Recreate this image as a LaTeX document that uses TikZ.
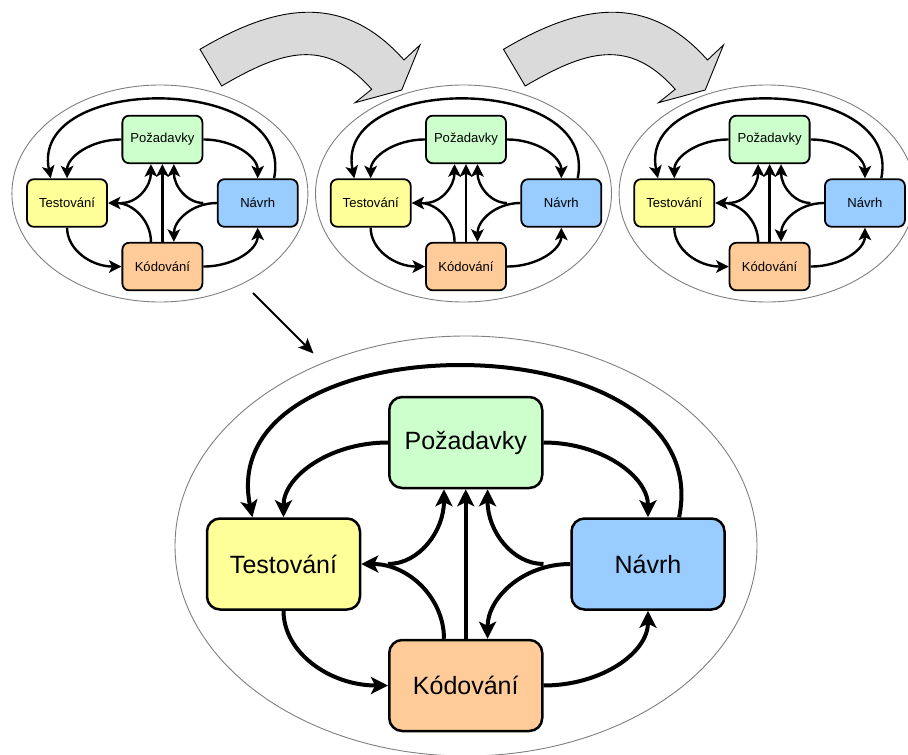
\documentclass[tikz,border=0pt]{standalone}
\usepackage{fontspec}
\setmainfont{Liberation Sans}
\usetikzlibrary{arrows.meta,calc}

\definecolor{reqgreen}{HTML}{CCFFCC}
\definecolor{testyellow}{HTML}{FFFF99}
\definecolor{designblue}{HTML}{99CCFF}
\definecolor{codeorange}{HTML}{FFCC99}
\definecolor{turnfill}{HTML}{DADADA}
\definecolor{ringgray}{HTML}{7F7F7F}

% One development cycle: #1 name prefix, (#2,#3) centre, #4 scale,
% #5 box border width, #6 connector width, #7 arrow tip size
\newcommand\lifecycle[7]{%
  \pgfmathsetmacro\lcw{153*#4}%
  \pgfmathsetmacro\lch{91*#4}%
  \pgfmathsetmacro\lcr{13*#4}%
  \pgfmathsetmacro\lcf{25*#4}%
  \pgfmathsetmacro\lcti{0.24*#7}%
  \begin{scope}[shift={(#2,#3)}, scale=#4,
    phase/.style={draw, line width=#5pt, rounded corners=\lcr pt,
      minimum width=\lcw pt, minimum height=\lch pt, inner sep=0pt,
      font=\fontsize{\lcf pt}{\lcf pt}\selectfont},
    flow/.style={line width=#6pt,
      -{Stealth[length=#7pt, width=#7pt, inset=\lcti pt]}}]
    \node[phase, fill=reqgreen]    (#1pz) at (0,-121.5)   {Požadavky};
    \node[phase, fill=testyellow]  (#1ts) at (-182.25,0)  {Testování};
    \node[phase, fill=designblue]  (#1nv) at (182.25,0)   {Návrh};
    \node[phase, fill=codeorange]  (#1kd) at (0,121.5)    {Kódování};
    % long loop over the top
    \draw[flow] ($(#1nv.north west)!0.7!(#1nv.north east)$)
      .. controls +(41,-201) and +(-41,-201) ..
      ($(#1ts.north west)!0.3!(#1ts.north east)$);
    % outer ring
    \draw[flow] (#1pz.west) .. controls +(-58,0) and +(0,-41) .. (#1ts.north);
    \draw[flow] (#1pz.east) .. controls +(58,0) and +(0,-41) .. (#1nv.north);
    \draw[flow] (#1ts.south) .. controls +(0,42) and +(-58,0) .. (#1kd.west);
    \draw[flow] (#1kd.east) .. controls +(58,0) and +(0,42) .. (#1nv.south);
    % inner links
    \draw[flow] (#1kd.north) -- (#1pz.south);
    \draw[flow] ($(#1kd.north west)!0.36!(#1kd.north east)$)
      .. controls +(0,-41) and +(47,0) .. (#1ts.east);
    \draw[flow] (#1kd.west |- #1ts.east)
      .. controls +(31,0) and +(0,42) ..
      ($(#1pz.south west)!0.36!(#1pz.south east)$);
    \draw[flow] (#1kd.east |- #1nv.west)
      .. controls +(-31,0) and +(0,42) ..
      ($(#1pz.south west)!0.64!(#1pz.south east)$);
    \draw[flow] (#1nv.west)
      .. controls +(-47,0) and +(0,-41) ..
      ($(#1kd.north west)!0.64!(#1kd.north east)$);
  \end{scope}}

% Curved block arrow between two cycles, shifted by #1
\newcommand\turnarrow[1]{%
  \begin{scope}[shift={(#1,0)}]
    \draw[fill=turnfill, line width=0.9pt, line join=miter]
      (200,49.3) .. controls (277.5,3.5) and (344.2,-7.3) .. (404,60)
      -- (420,45) -- (401.7,90) -- (355,102.7) -- (371.7,89.3)
      .. controls (325.2,36.9) and (282,50.7) .. (221.7,86) -- cycle;
  \end{scope}}

\begin{document}
\begin{tikzpicture}[x=1pt, y=-1pt]
  \useasboundingbox (0,0) rectangle (908,755);
  \clip (0,0) rectangle (908,755);

  % rings round each cycle
  \draw[ringgray, line width=0.9pt] (159.9,193.5) ellipse [x radius=148, y radius=108.5];
  \draw[ringgray, line width=0.9pt] (463.5,193.5) ellipse [x radius=148, y radius=108.5];
  \draw[ringgray, line width=0.9pt] (767.1,193.5) ellipse [x radius=148, y radius=108.5];
  \draw[ringgray, line width=0.9pt] (466,546) ellipse [x radius=291, y radius=210];

  % iterations
  \turnarrow{0}
  \turnarrow{303.5}

  \lifecycle{a}{162.4}{203}{0.523}{1.8}{2.4}{12.5}
  \lifecycle{b}{466}{203}{0.523}{1.8}{2.4}{12.5}
  \lifecycle{c}{769.6}{203}{0.523}{1.8}{2.4}{12.5}
  \lifecycle{m}{465.75}{564}{1}{2.5}{4}{17}

  % zoom into the first iteration
  \coordinate (zoomfrom) at (253,293);
  \coordinate (zoomto) at (313.5,353.5);
  \draw[line width=2pt, -{Stealth[length=15pt, width=13pt, inset=3pt]}] (zoomfrom) -- (zoomto);
\end{tikzpicture}
\end{document}
